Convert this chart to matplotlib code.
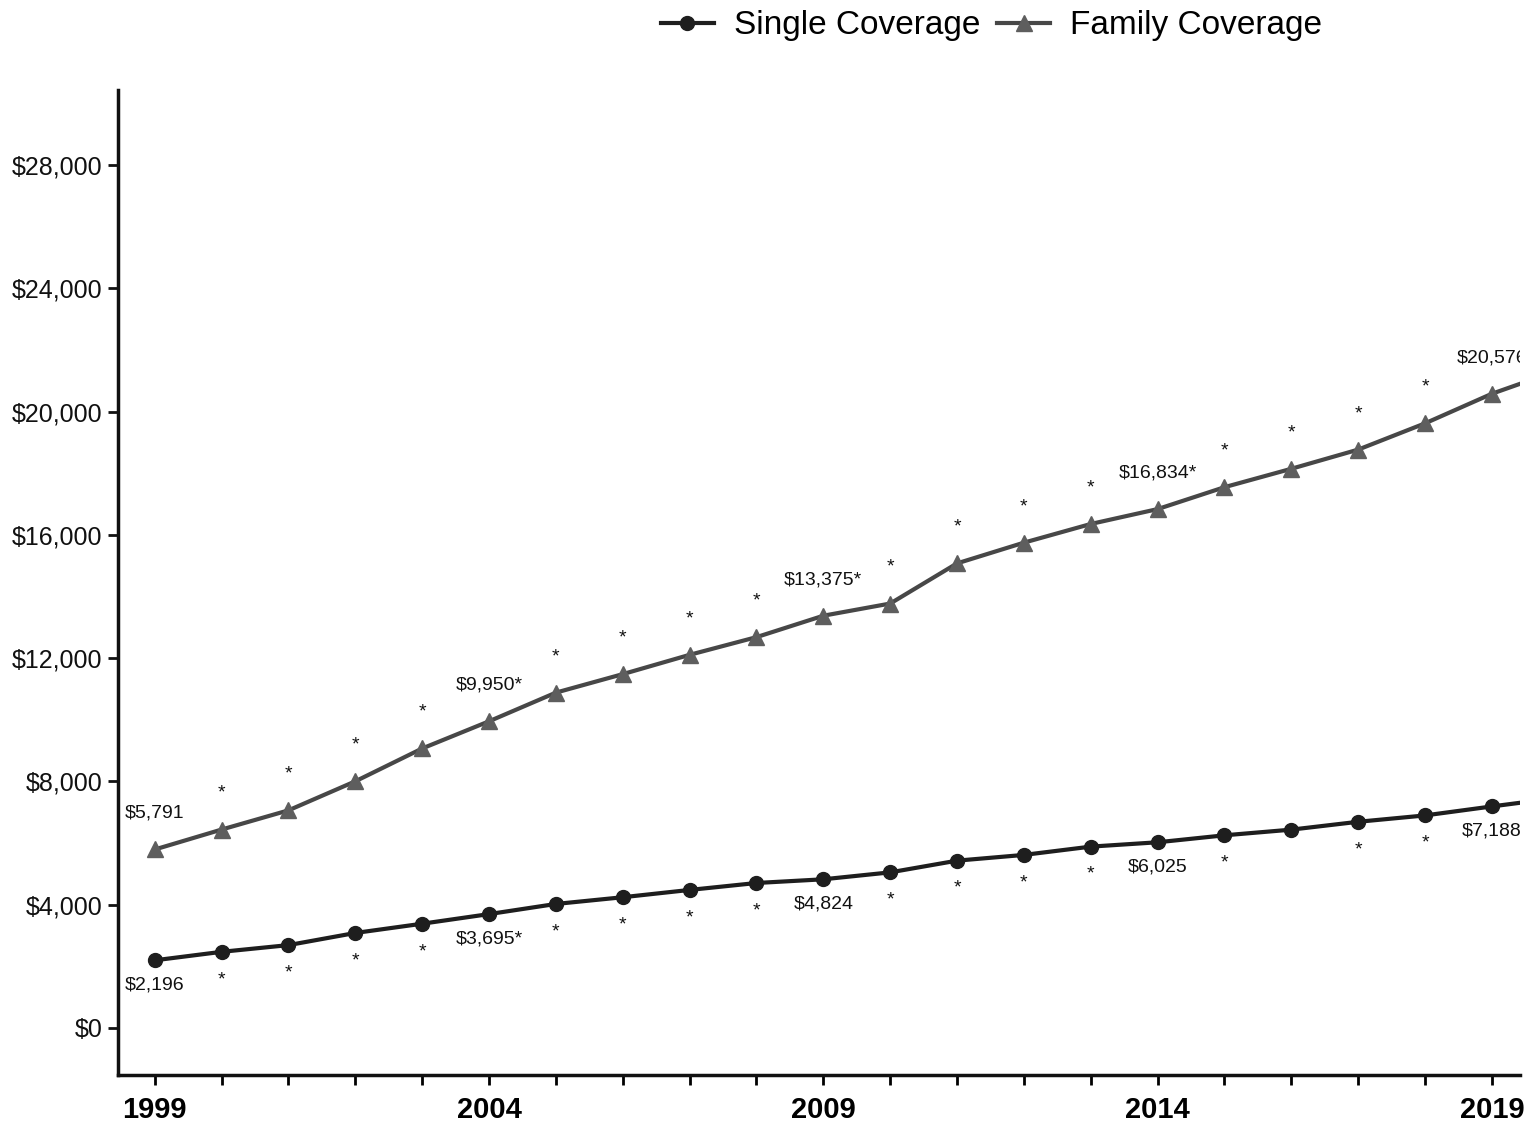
import matplotlib.pyplot as plt
from matplotlib.ticker import FuncFormatter

plt.rcParams['font.family'] = ['Liberation Sans', 'DejaVu Sans']

# data
years = list(range(1999, 2021))
single = [2196, 2471, 2689, 3083, 3383, 3695, 4024, 4242, 4479, 4704, 4824,
          5049, 5429, 5615, 5884, 6025, 6251, 6435, 6690, 6896, 7188, 7470]
family = [5791, 6438, 7061, 8003, 9068, 9950, 10880, 11480, 12106, 12680, 13375,
          13770, 15073, 15745, 16351, 16834, 17545, 18142, 18764, 19616, 20576, 21342]

single_labels = {1999: '$2,196', 2004: '$3,695*', 2009: '$4,824', 2014: '$6,025', 2019: '$7,188'}
family_labels = {1999: '$5,791', 2004: '$9,950*', 2009: '$13,375*', 2014: '$16,834*', 2019: '$20,576'}
single_stars = [2000, 2001, 2002, 2003, 2005, 2006, 2007, 2008, 2010, 2011, 2012, 2013, 2015, 2017, 2018]
family_stars = [2000, 2001, 2002, 2003, 2005, 2006, 2007, 2008, 2010, 2011, 2012, 2013, 2015, 2016, 2017, 2018]

fig = plt.figure(figsize=(15.37, 11.24), dpi=100)
ax = fig.add_axes([118 / 1537, 1 - 1075 / 1124, (1520 - 118) / 1537, (1075 - 90) / 1124])

ax.plot(years, single, color='#1e1e1e', lw=3, marker='o', ms=10, label='Single Coverage')
ax.plot(years, family, color='#474747', lw=3, marker='^', ms=11, mfc='#5e5e5e', mec='#5e5e5e',
        label='Family Coverage')

for y, txt in family_labels.items():
    v = family[years.index(y)]
    ax.annotate(txt, (y, v), xytext=(0, 26), textcoords='offset points', ha='center', va='center',
                fontsize=14, color='#111111', annotation_clip=False, clip_on=True)
for y, txt in single_labels.items():
    v = single[years.index(y)]
    ax.annotate(txt, (y, v), xytext=(0, -18), textcoords='offset points', ha='center', va='center',
                fontsize=14, color='#111111', annotation_clip=False, clip_on=True)
for y in family_stars:
    v = family[years.index(y)]
    ax.annotate('*', (y, v), xytext=(0, 26), textcoords='offset points', ha='center', va='center',
                fontsize=14, color='#111111')
for y in single_stars:
    v = single[years.index(y)]
    ax.annotate('*', (y, v), xytext=(0, -20), textcoords='offset points', ha='center', va='center',
                fontsize=14, color='#111111')

ax.set_xlim(1998.45, 2019.42)
ax.set_ylim(-1525, 30430)
ax.set_yticks(range(0, 28001, 4000))
ax.yaxis.set_major_formatter(FuncFormatter(lambda v, p: '${:,.0f}'.format(v)))
ax.set_xticks([1999, 2004, 2009, 2014, 2019])
ax.set_xticks(years[:-1], minor=True)
for lab in ax.get_xticklabels():
    lab.set_fontweight('bold')
ax.tick_params(axis='x', which='both', length=7, width=2, labelsize=21, pad=8)
ax.tick_params(axis='y', length=7, width=2, labelsize=18, pad=4, colors='#111111')

for s in ['top', 'right']:
    ax.spines[s].set_visible(False)
for s in ['left', 'bottom']:
    ax.spines[s].set_linewidth(2.5)
    ax.spines[s].set_color('#111111')

fig.legend(loc='center', bbox_to_anchor=(0.645, 0.977), ncol=2, frameon=False, fontsize=24,
           handlelength=1.6, columnspacing=0.5, handletextpad=0.6)

fig.savefig('out.png', dpi=100)
